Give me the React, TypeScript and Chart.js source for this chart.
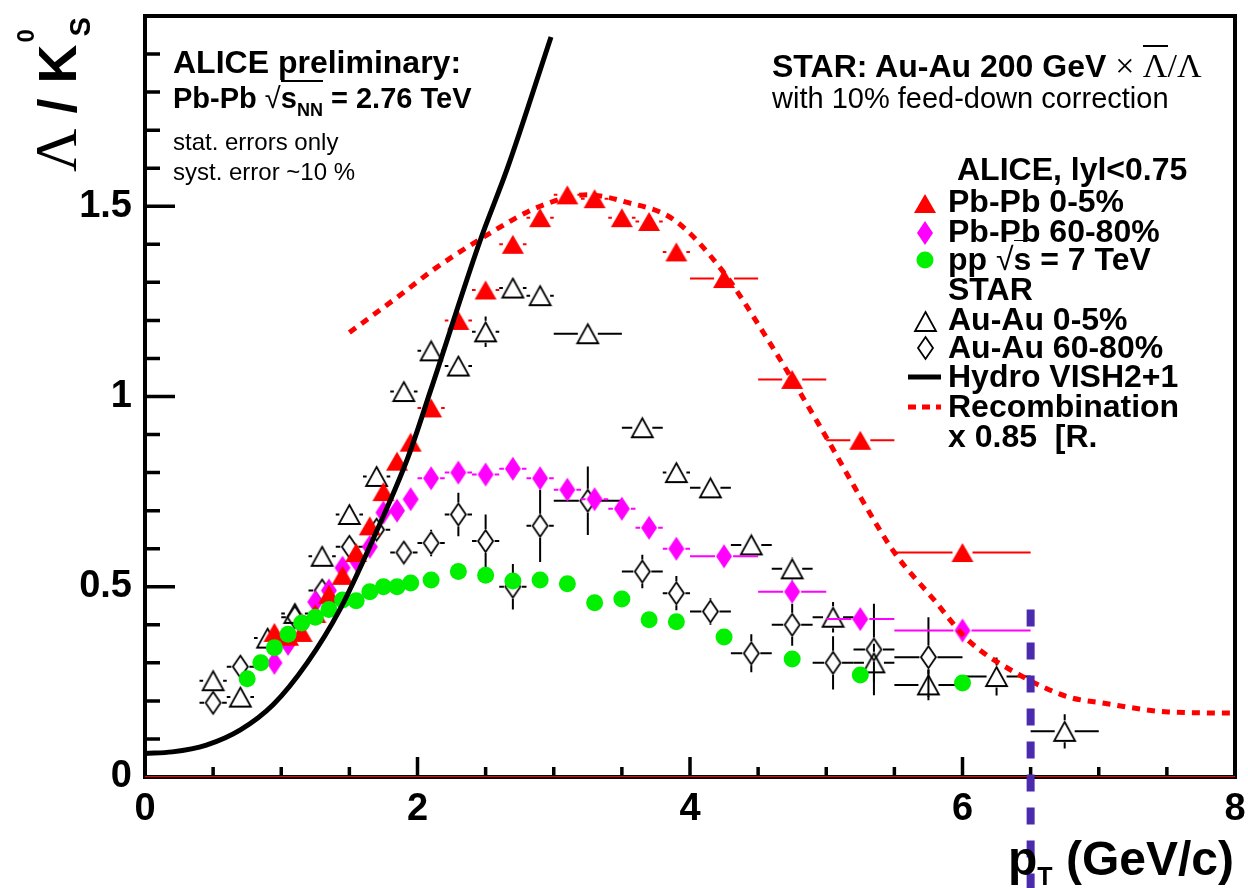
import React, { useEffect, useRef } from 'react';
import { Chart, registerables } from 'chart.js';

Chart.register(...registerables);

// ---------------- data ----------------
// ALICE Pb-Pb pT bins (GeV/c) and half-widths
const ALICE_PT = [0.95, 1.05, 1.15, 1.25, 1.35, 1.45, 1.55, 1.65, 1.75, 1.85, 1.95, 2.1, 2.3, 2.5, 2.7, 2.9, 3.1, 3.3, 3.5, 3.7, 3.9, 4.25, 4.75, 5.25, 6.0];
const ALICE_PT_ERR = [0.05, 0.05, 0.05, 0.05, 0.05, 0.05, 0.05, 0.05, 0.05, 0.05, 0.05, 0.1, 0.1, 0.1, 0.1, 0.1, 0.1, 0.1, 0.1, 0.1, 0.1, 0.25, 0.25, 0.25, 0.5];
// Pb-Pb 0-5%
const PBPB_0_5 = [0.38, 0.37, 0.38, 0.43, 0.48, 0.53, 0.59, 0.66, 0.75, 0.83, 0.88, 0.97, 1.2, 1.28, 1.4, 1.47, 1.53, 1.52, 1.47, 1.46, 1.38, 1.31, 1.045, 0.885, 0.59];
const PBPB_0_5_ERR = [0.01, 0.01, 0.01, 0.01, 0.01, 0.01, 0.01, 0.01, 0.01, 0.01, 0.01, 0.01, 0.01, 0.01, 0.01, 0.01, 0.01, 0.01, 0.01, 0.01, 0.01, 0.02, 0.02, 0.02, 0.02];
// Pb-Pb 60-80%
const PBPB_60_80 = [0.3, 0.35, 0.4, 0.46, 0.49, 0.55, 0.57, 0.605, 0.695, 0.7, 0.73, 0.785, 0.8, 0.795, 0.81, 0.785, 0.755, 0.73, 0.705, 0.655, 0.6, 0.58, 0.487, 0.415, 0.385];
const PBPB_60_80_ERR = [0.01, 0.01, 0.01, 0.01, 0.01, 0.01, 0.01, 0.01, 0.01, 0.01, 0.01, 0.01, 0.01, 0.01, 0.01, 0.01, 0.01, 0.01, 0.01, 0.01, 0.01, 0.01, 0.01, 0.01, 0.01];
// pp 7 TeV
const PP_PT = [0.75, 0.85, 0.95, 1.05, 1.15, 1.25, 1.35, 1.45, 1.55, 1.65, 1.75, 1.85, 1.95, 2.1, 2.3, 2.5, 2.7, 2.9, 3.1, 3.3, 3.5, 3.7, 3.9, 4.25, 4.75, 5.25, 6.0];
const PP_7TEV = [0.258, 0.3, 0.34, 0.375, 0.405, 0.42, 0.44, 0.465, 0.463, 0.487, 0.5, 0.5, 0.51, 0.518, 0.54, 0.53, 0.515, 0.518, 0.508, 0.458, 0.468, 0.413, 0.408, 0.368, 0.31, 0.268, 0.247];
// STAR Au-Au 0-5%
const STAR_PT_0_5 = [0.5, 0.7, 0.9, 1.1, 1.3, 1.5, 1.7, 1.9, 2.1, 2.3, 2.5, 2.7, 2.9, 3.25, 3.65, 3.9, 4.15, 4.45, 4.75, 5.05, 5.35, 5.75, 6.25, 6.75];
const STAR_PT_ERR_0_5 = [0.1, 0.1, 0.1, 0.1, 0.1, 0.1, 0.1, 0.1, 0.1, 0.1, 0.1, 0.1, 0.1, 0.25, 0.15, 0.1, 0.15, 0.15, 0.15, 0.15, 0.15, 0.25, 0.25, 0.25];
const AUAU_0_5 = [0.253, 0.21, 0.365, 0.43, 0.58, 0.69, 0.79, 1.013, 1.12, 1.08, 1.17, 1.285, 1.265, 1.165, 0.918, 0.8, 0.76, 0.61, 0.547, 0.42, 0.3, 0.242, 0.264, 0.12];
const AUAU_0_5_ERR = [0.01, 0.01, 0.01, 0.01, 0.01, 0.01, 0.01, 0.01, 0.015, 0.02, 0.04, 0.015, 0.025, 0.01, 0.01, 0.01, 0.01, 0.01, 0.03, 0.04, 0.05, 0.04, 0.05, 0.045];
// STAR Au-Au 60-80%
const STAR_PT_60_80 = [0.5, 0.7, 1.1, 1.3, 1.5, 1.7, 1.9, 2.1, 2.3, 2.5, 2.7, 2.9, 3.25, 3.65, 3.9, 4.15, 4.45, 4.75, 5.05, 5.35, 5.75];
const STAR_PT_ERR_60_80 = [0.1, 0.1, 0.1, 0.1, 0.1, 0.1, 0.1, 0.1, 0.1, 0.1, 0.1, 0.1, 0.25, 0.15, 0.1, 0.15, 0.15, 0.15, 0.15, 0.15, 0.25];
const AUAU_60_80 = [0.195, 0.29, 0.42, 0.49, 0.605, 0.65, 0.59, 0.615, 0.69, 0.62, 0.5, 0.66, 0.726, 0.54, 0.483, 0.435, 0.325, 0.4, 0.3, 0.335, 0.315];
const AUAU_60_80_ERR = [0.005, 0.005, 0.01, 0.015, 0.02, 0.025, 0.02, 0.035, 0.057, 0.07, 0.06, 0.095, 0.09, 0.044, 0.045, 0.035, 0.05, 0.055, 0.07, 0.12, 0.105];
// Hydro VISH2+1 curve
const HYDRO_PT = [0, 0.2, 0.45, 0.7, 0.94, 1.19, 1.43, 1.68, 1.93, 2.1, 2.46, 2.66, 2.98];
const HYDRO_RATIO = [0.062, 0.066, 0.084, 0.124, 0.19, 0.3, 0.44, 0.63, 0.84, 1.02, 1.41, 1.6, 1.945];
// Recombination x 0.85 curve
const RECO_PT = [1.5, 1.9, 2.12, 2.49, 2.9, 3.25, 3.54, 3.88, 4.23, 4.57, 4.94, 5.26, 5.5, 5.79, 6.04, 6.41, 6.78, 7.02, 7.51, 8.0];
const RECO_RATIO = [1.168, 1.274, 1.334, 1.42, 1.5, 1.53, 1.51, 1.465, 1.334, 1.15, 0.93, 0.73, 0.59, 0.466, 0.36, 0.27, 0.21, 0.195, 0.171, 0.168];
// reference line at zero and vertical cut
const ZERO_PT = [0, 8];
const ZERO_RATIO = [0, 0];
const CUT_PT = [6.5, 6.5];
const CUT_RATIO = [0.44, -0.3];
// axes
const X_TICKS = [0, 2, 4, 6, 8];
const Y_TICKS = [0, 0.5, 1, 1.5];
const X_MINOR_STEP = 0.5;
const Y_MINOR_STEP = 0.1;

// ---------------- helpers ----------------
const toPts = (xs: number[], ys: number[]) => xs.map((x, i) => ({ x, y: ys[i] }));

function makeTriangle(w: number, h: number, fill: string | null, stroke: string | null, lw: number) {
  const c = document.createElement('canvas');
  const pad = 2;
  c.width = w + 2 * pad;
  c.height = h + 2 * pad;
  const ctx = c.getContext('2d')!;
  ctx.beginPath();
  ctx.moveTo(pad + w / 2, pad);
  ctx.lineTo(pad + w, pad + h);
  ctx.lineTo(pad, pad + h);
  ctx.closePath();
  if (fill) { ctx.fillStyle = fill; ctx.fill(); }
  if (stroke) { ctx.strokeStyle = stroke; ctx.lineWidth = lw; ctx.lineJoin = 'miter'; ctx.stroke(); }
  return c;
}

function makeDiamond(w: number, h: number, fill: string | null, stroke: string | null, lw: number) {
  const c = document.createElement('canvas');
  const pad = 2;
  c.width = w + 2 * pad;
  c.height = h + 2 * pad;
  const ctx = c.getContext('2d')!;
  ctx.beginPath();
  ctx.moveTo(pad + w / 2, pad);
  ctx.lineTo(pad + w, pad + h / 2);
  ctx.lineTo(pad + w / 2, pad + h);
  ctx.lineTo(pad, pad + h / 2);
  ctx.closePath();
  if (fill) { ctx.fillStyle = fill; ctx.fill(); }
  if (stroke) { ctx.strokeStyle = stroke; ctx.lineWidth = lw; ctx.stroke(); }
  return c;
}

const errorBarPlugin = {
  id: 'errorBars',
  beforeDatasetDraw(chart: any, args: any) {
    const ds: any = chart.data.datasets[args.index];
    if (!ds.xErr && !ds.yErr) return;
    const { ctx, chartArea: a } = chart;
    const xs = chart.scales.x;
    const ys = chart.scales.y;
    ctx.save();
    ctx.beginPath();
    ctx.rect(a.left, a.top, a.right - a.left, a.bottom - a.top);
    ctx.clip();
    ctx.strokeStyle = ds.errColor;
    ctx.lineWidth = ds.errWidth;
    ctx.beginPath();
    ds.data.forEach((p: any, i: number) => {
      const px = xs.getPixelForValue(p.x);
      const py = ys.getPixelForValue(p.y);
      const xe = ds.xErr ? ds.xErr[i] : 0;
      const ye = ds.yErr ? ds.yErr[i] : 0;
      if (xe) {
        const xl = xs.getPixelForValue(p.x - xe);
        const xr = xs.getPixelForValue(p.x + xe);
        if (px - xl > ds.gapX) { ctx.moveTo(xl, py); ctx.lineTo(px - ds.gapX, py); }
        if (xr - px > ds.gapX) { ctx.moveTo(px + ds.gapX, py); ctx.lineTo(xr, py); }
      }
      if (ye) {
        const yt = ys.getPixelForValue(p.y + ye);
        const yb = ys.getPixelForValue(p.y - ye);
        if (py - yt > ds.gapY) { ctx.moveTo(px, yt); ctx.lineTo(px, py - ds.gapY); }
        if (yb - py > ds.gapY) { ctx.moveTo(px, py + ds.gapY); ctx.lineTo(px, yb); }
      }
    });
    ctx.stroke();
    ctx.restore();
  },
};

const framePlugin = {
  id: 'frame',
  beforeDatasetsDraw(chart: any) {
    const { ctx, chartArea: a } = chart;
    const xs = chart.scales.x;
    const ys = chart.scales.y;
    ctx.save();
    ctx.strokeStyle = '#000';
    ctx.lineWidth = 4;
    ctx.strokeRect(a.left, a.top, a.right - a.left, a.bottom - a.top);
    ctx.lineWidth = 3.5;
    ctx.beginPath();
    const ny = Math.round((ys.max - ys.min) / Y_MINOR_STEP);
    for (let k = 0; k <= ny; k++) {
      const v = ys.min + k * Y_MINOR_STEP;
      const major = Y_TICKS.some((t) => Math.abs(t - v) < 1e-6) || Math.abs(v - 2) < 1e-6;
      const py = ys.getPixelForValue(v);
      ctx.moveTo(a.left, py);
      ctx.lineTo(a.left + (major ? 30 : 15), py);
    }
    const nx = Math.round((xs.max - xs.min) / X_MINOR_STEP);
    for (let k = 0; k <= nx; k++) {
      const v = xs.min + k * X_MINOR_STEP;
      const major = X_TICKS.some((t) => Math.abs(t - v) < 1e-6);
      const px = xs.getPixelForValue(v);
      ctx.moveTo(px, a.bottom);
      ctx.lineTo(px, a.bottom - (major ? 20 : 10));
    }
    ctx.stroke();
    ctx.restore();
  },
};

// ---------------- text helpers ----------------
const FONT = '"Liberation Sans", Arial, Helvetica, sans-serif';
const SERIF = '"Liberation Serif", "Times New Roman", serif';

function Txt(props: { x: number; base: number; size: number; bold?: boolean; children: any; style?: any }) {
  const { x, base, size, bold, children, style } = props;
  return (
    <div
      style={{
        position: 'absolute',
        left: x,
        top: base - size * 0.8465,
        fontSize: size,
        lineHeight: `${size}px`,
        fontWeight: bold ? 'bold' : 'normal',
        whiteSpace: 'nowrap',
        ...(style || {}),
      }}
    >
      {children}
    </div>
  );
}

export default function App() {
  const ref = useRef<HTMLCanvasElement>(null);

  useEffect(() => {
    const canvas = ref.current;
    if (!canvas) return;
    Chart.defaults.font.family = FONT;

    const triRed = makeTriangle(22, 19, '#ff0000', null, 0);
    const triOpen = makeTriangle(21, 19, null, '#000000', 1.8);
    const diaMag = makeDiamond(16, 24, '#ff00ff', null, 0);
    const diaOpen = makeDiamond(15, 22, null, '#000000', 1.8);
    const green = '#00f000';

    const legendPlugin = {
      id: 'legendMarkers',
      afterDatasetsDraw(chart: any) {
        const ctx = chart.ctx;
        ctx.save();
        const img = (c: HTMLCanvasElement, cx: number, cy: number) =>
          ctx.drawImage(c, Math.round(cx - c.width / 2), Math.round(cy - c.height / 2));
        img(triRed, 925, 203);
        img(diaMag, 925, 233);
        ctx.fillStyle = green;
        ctx.beginPath();
        ctx.arc(925, 260, 8.5, 0, Math.PI * 2);
        ctx.fill();
        img(triOpen, 925, 321);
        img(diaOpen, 925, 348);
        ctx.strokeStyle = '#000';
        ctx.lineWidth = 5;
        ctx.beginPath();
        ctx.moveTo(908, 377);
        ctx.lineTo(941, 377);
        ctx.stroke();
        ctx.strokeStyle = '#ff0000';
        ctx.setLineDash([8, 6]);
        ctx.beginPath();
        ctx.moveTo(908, 407);
        ctx.lineTo(941, 407);
        ctx.stroke();
        ctx.restore();
      },
    };

    const tickFont = { family: FONT, size: 38, weight: 'bold' as const };

    const chart = new Chart(canvas, {
      type: 'scatter',
      data: {
        datasets: [
          {
            label: 'cut',
            data: toPts(CUT_PT, CUT_RATIO),
            showLine: true,
            borderColor: '#4a2bae',
            borderWidth: 8,
            borderDash: [17, 16],
            pointRadius: 0,
            clip: false as any,
            order: 0,
          },
          {
            label: 'Hydro VISH2+1',
            data: toPts(HYDRO_PT, HYDRO_RATIO),
            showLine: true,
            borderColor: '#000000',
            borderWidth: 5,
            pointRadius: 0,
            cubicInterpolationMode: 'monotone',
            order: 1,
          },
          {
            label: 'Recombination x 0.85',
            data: toPts(RECO_PT, RECO_RATIO),
            showLine: true,
            borderColor: '#ff0000',
            borderWidth: 5,
            borderDash: [8, 7],
            pointRadius: 0,
            cubicInterpolationMode: 'monotone',
            order: 2,
          },
          {
            label: 'pp 7 TeV',
            data: toPts(PP_PT, PP_7TEV),
            pointStyle: 'circle',
            pointRadius: 8.5,
            pointBackgroundColor: green,
            pointBorderColor: green,
            pointBorderWidth: 0,
            order: 3,
          },
          {
            label: 'Pb-Pb 0-5%',
            data: toPts(ALICE_PT, PBPB_0_5),
            pointStyle: triRed,
            pointRadius: 10,
            xErr: ALICE_PT_ERR,
            yErr: PBPB_0_5_ERR,
            errColor: '#ff0000',
            errWidth: 2,
            gapX: 10,
            gapY: 11,
            order: 4,
          } as any,
          {
            label: 'Pb-Pb 60-80%',
            data: toPts(ALICE_PT, PBPB_60_80),
            pointStyle: diaMag,
            pointRadius: 10,
            xErr: ALICE_PT_ERR,
            yErr: PBPB_60_80_ERR,
            errColor: '#ff00ff',
            errWidth: 2,
            gapX: 9,
            gapY: 12,
            order: 5,
          } as any,
          {
            label: 'Au-Au 60-80%',
            data: toPts(STAR_PT_60_80, AUAU_60_80),
            pointStyle: diaOpen,
            pointRadius: 10,
            xErr: STAR_PT_ERR_60_80,
            yErr: AUAU_60_80_ERR,
            errColor: '#000000',
            errWidth: 2,
            gapX: 9,
            gapY: 12,
            order: 6,
          } as any,
          {
            label: 'Au-Au 0-5%',
            data: toPts(STAR_PT_0_5, AUAU_0_5),
            pointStyle: triOpen,
            pointRadius: 10,
            xErr: STAR_PT_ERR_0_5,
            yErr: AUAU_0_5_ERR,
            errColor: '#000000',
            errWidth: 2,
            gapX: 10,
            gapY: 11,
            order: 7,
          } as any,
          {
            label: 'zero',
            data: toPts(ZERO_PT, ZERO_RATIO),
            showLine: true,
            borderColor: '#ff0000',
            borderWidth: 2,
            pointRadius: 0,
            order: 8,
          },
        ],
      },
      options: {
        animation: false,
        responsive: false,
        devicePixelRatio: 1,
        events: [],
        layout: { padding: { left: 8, right: 13, top: 16, bottom: 0 } },
        plugins: { legend: { display: false }, tooltip: { enabled: false } },
        scales: {
          x: {
            type: 'linear',
            min: 0,
            max: 8,
            afterBuildTicks: (s: any) => {
              s.ticks = X_TICKS.map((v) => ({ value: v }));
            },
            afterFit: (s: any) => {
              s.height = 111;
              s.paddingLeft = 0;
              s.paddingRight = 0;
            },
            grid: { display: false, drawTicks: false, tickLength: 0 },
            border: { display: false },
            ticks: {
              font: tickFont,
              color: '#000',
              padding: 10,
              maxRotation: 0,
              autoSkip: false,
              callback: (v: any) => String(v),
            },
          },
          y: {
            type: 'linear',
            min: 0,
            max: 2,
            afterBuildTicks: (s: any) => {
              s.ticks = Y_TICKS.map((v) => ({ value: v }));
            },
            afterFit: (s: any) => {
              s.width = 137;
              s.paddingTop = 0;
              s.paddingBottom = 0;
            },
            grid: { display: false, drawTicks: false, tickLength: 0 },
            border: { display: false },
            ticks: {
              font: tickFont,
              color: '#000',
              padding: 13,
              autoSkip: false,
              callback: (v: any) => String(v),
            },
          },
        },
      } as any,
      plugins: [framePlugin, errorBarPlugin, legendPlugin],
    });
    return () => chart.destroy();
  }, []);

  const ov = { borderTop: '2px solid #000' };

  return (
    <div
      style={{
        position: 'absolute',
        left: 0,
        top: 0,
        width: 1248,
        height: 888,
        background: '#fff',
        overflow: 'hidden',
        fontFamily: FONT,
        color: '#000',
      }}
    >
      <canvas ref={ref} width={1248} height={888} style={{ position: 'absolute', left: 0, top: 0 }} />

      {/* y-axis title */}
      <div
        style={{
          position: 'absolute',
          left: 29,
          top: 172,
          transformOrigin: '0 0',
          transform: 'rotate(-90deg)',
          fontSize: 54,
          lineHeight: '54px',
          fontWeight: 'bold',
          whiteSpace: 'nowrap',
        }}
      >
        <span style={{ fontFamily: SERIF, fontWeight: 'normal', fontSize: 60 }}>Λ</span>
        {' / K'}
        <span style={{ display: 'inline-block', position: 'relative', width: 34, height: 0 }}>
          <span style={{ position: 'absolute', left: 2, top: -62, fontSize: 24, lineHeight: '24px' }}>0</span>
          <span style={{ position: 'absolute', left: 8, top: -10, fontSize: 29, lineHeight: '29px' }}>S</span>
        </span>
      </div>

      {/* x-axis title */}
      <div
        style={{
          position: 'absolute',
          right: 14,
          top: 876 - 48 * 0.8465,
          fontSize: 48,
          lineHeight: '48px',
          fontWeight: 'bold',
          whiteSpace: 'nowrap',
        }}
      >
        p<span style={{ fontSize: 25, position: 'relative', top: 10 }}>T</span>
        {' (GeV/c)'}
      </div>

      {/* ALICE header */}
      <Txt x={173} base={73} size={32} bold>
        ALICE preliminary:
      </Txt>
      <Txt x={173} base={109} size={29} bold>
        {'Pb-Pb '}
        <span style={{ fontWeight: 'normal' }}>√</span>
        <span style={ov}>
          s<span style={{ fontSize: 18, position: 'relative', top: 8 }}>NN</span>
        </span>
        {' = 2.76 TeV'}
      </Txt>
      <Txt x={173} base={150} size={24}>
        stat. errors only
      </Txt>
      <Txt x={173} base={180} size={24}>
        syst. error ~10 %
      </Txt>

      {/* STAR header */}
      <Txt x={772} base={77} size={32} bold>
        {'STAR: Au-Au 200 GeV '}
        <span style={{ fontFamily: SERIF, fontWeight: 'normal', fontSize: 34 }}>
          {'× '}
          <span style={ov}>Λ</span>/Λ
        </span>
      </Txt>
      <Txt x={772} base={109} size={29}>
        with 10% feed-down correction
      </Txt>

      {/* legend */}
      <Txt x={957} base={180} size={32} bold>
        ALICE, lyl&lt;0.75
      </Txt>
      <Txt x={948} base={212} size={32} bold>
        Pb-Pb 0-5%
      </Txt>
      <Txt x={948} base={242} size={32} bold>
        Pb-Pb 60-80%
      </Txt>
      <Txt x={948} base={270} size={32} bold>
        {'pp '}
        <span style={{ fontWeight: 'normal' }}>√</span>
        <span style={{ borderTop: '1.5px solid #000' }}>s</span>
        {' = 7 TeV'}
      </Txt>
      <Txt x={948} base={300} size={32} bold>
        STAR
      </Txt>
      <Txt x={948} base={330} size={32} bold>
        Au-Au 0-5%
      </Txt>
      <Txt x={948} base={358} size={32} bold>
        Au-Au 60-80%
      </Txt>
      <Txt x={948} base={387} size={32} bold>
        Hydro VISH2+1
      </Txt>
      <Txt x={948} base={417} size={32} bold>
        Recombination
      </Txt>
      <Txt x={948} base={447} size={32} bold style={{ whiteSpace: 'pre' }}>
        {'x 0.85  [R.'}
      </Txt>
    </div>
  );
}
